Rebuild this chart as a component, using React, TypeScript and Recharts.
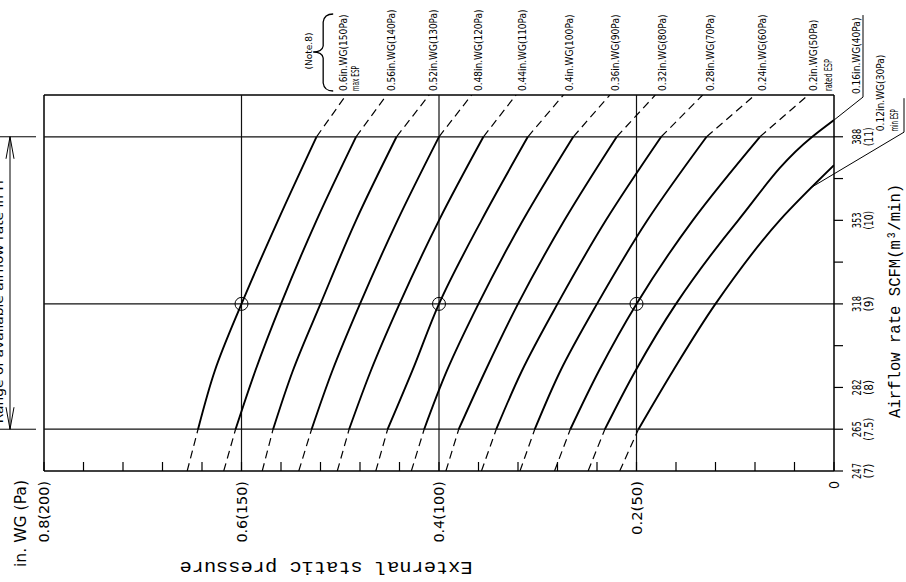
import React from "react";
import { LineChart, Line, XAxis, YAxis, ReferenceLine, ReferenceDot } from "recharts";

// airflow sample points (m3/min) at which the curves were read
const AIRFLOW = [7, 7.5, 8.2, 9, 10, 11, 11.5];

// external static pressure (in.WG) of each fan curve at the AIRFLOW points
const ESP_060 = [0.655, 0.644, 0.627, 0.6, 0.563, 0.524, 0.494];
const ESP_056 = [0.618, 0.606, 0.586, 0.56, 0.524, 0.484, 0.453];
const ESP_052 = [0.579, 0.568, 0.548, 0.52, 0.484, 0.443, 0.41];
const ESP_048 = [0.542, 0.529, 0.508, 0.48, 0.442, 0.4, 0.367];
const ESP_044 = [0.503, 0.491, 0.469, 0.44, 0.4, 0.355, 0.322];
const ESP_040 = [0.464, 0.452, 0.427, 0.4, 0.357, 0.31, 0.274];
const ESP_036 = [0.428, 0.415, 0.392, 0.36, 0.315, 0.264, 0.227];
const ESP_032 = [0.393, 0.38, 0.353, 0.32, 0.273, 0.22, 0.181];
const ESP_028 = [0.357, 0.342, 0.316, 0.28, 0.231, 0.175, 0.133];
const ESP_024 = [0.318, 0.303, 0.277, 0.24, 0.189, 0.129, 0.08];
const ESP_020 = [0.283, 0.267, 0.238, 0.2, 0.143, 0.075, 0.026];
const ESP_016 = [0.249, 0.232, 0.201, 0.16, 0.097, 0.022, null];
const ESP_012 = [0.217, 0.198, 0.163, 0.12, 0.055, null, null];

// airflow where the two lowest curves reach 0 in.WG
const ZERO_016 = 11.2;
const ZERO_012 = 10.66;

const CURVE_LABELS = [
  ["0.6in.WG(150Pa)", "max ESP"],
  ["0.56in.WG(140Pa)"],
  ["0.52in.WG(130Pa)"],
  ["0.48in.WG(120Pa)"],
  ["0.44in.WG(110Pa)"],
  ["0.4in.WG(100Pa)"],
  ["0.36in.WG(90Pa)"],
  ["0.32in.WG(80Pa)"],
  ["0.28in.WG(70Pa)"],
  ["0.24in.WG(60Pa)"],
  ["0.2in.WG(50Pa)", "rated ESP"],
  ["0.16in.WG(40Pa)"],
  ["0.12in.WG(30Pa)", "min ESP"],
];

const P_TICKS = [0, 0.04, 0.08, 0.12, 0.16, 0.2, 0.24, 0.28, 0.32, 0.36, 0.4, 0.44, 0.48, 0.52, 0.56, 0.6, 0.64, 0.68, 0.72, 0.76, 0.8];
const P_LABELED = [0.8, 0.6, 0.4, 0.2, 0];
const P_LABELS = ["0.8(200)", "0.6(150)", "0.4(100)", "0.2(50)", "0"];

const Q_TICKS = [7, 7.5, 8, 8.5, 9, 9.5, 10, 10.5, 11];
const Q_LABELED = [7, 7.5, 8, 9, 10, 11];
const SCFM_LABELS = ["247", "265", "282", "318", "353", "388"];
const M3_LABELS = ["(7)", "(7.5)", "(8)", "(9)", "(10)", "(11)"];

const GRID_P = [0.6, 0.4, 0.2];
const GRID_Q = [7.5, 9, 11];
const RATED_Q = 9;
const RATED_P = [0.6, 0.4, 0.2];

const CURVES = [
  { esp: ESP_060, zero: null },
  { esp: ESP_056, zero: null },
  { esp: ESP_052, zero: null },
  { esp: ESP_048, zero: null },
  { esp: ESP_044, zero: null },
  { esp: ESP_040, zero: null },
  { esp: ESP_036, zero: null },
  { esp: ESP_032, zero: null },
  { esp: ESP_028, zero: null },
  { esp: ESP_024, zero: null },
  { esp: ESP_020, zero: null },
  { esp: ESP_016, zero: ZERO_016 },
  { esp: ESP_012, zero: ZERO_012 },
];

const CAD = "'DejaVu Sans Condensed', 'Liberation Sans Narrow', 'DejaVu Sans', sans-serif";
const MONO = "'Liberation Mono', 'DejaVu Sans Mono', monospace";

// label line offsets (px) from the top end of each curve
const LABEL_DX = [[-3, 9], [4], [4], [6], [6], [6], [5], [7], [7], [7], [5, 20]];
const SUB_LEN: Record<string, number> = { "max ESP": 25, "rated ESP": 32, "min ESP": 22 };

function segments(esp: (number | null)[], zero: number | null) {
  const pts = AIRFLOW.map((q, i) => ({ q, p: esp[i] })).filter((d) => d.p != null) as { q: number; p: number }[];
  if (zero != null) pts.push({ q: zero, p: 0 });
  const low = pts.filter((d) => d.q <= 7.5);
  const mid = pts.filter((d) => d.q >= 7.5 && (zero != null || d.q <= 11));
  const top = zero != null ? [] : pts.filter((d) => d.q >= 11);
  return { low, mid, top };
}

function VText({ x, y, children, anchor = "start", size = 10.5, len, family = CAD }: any) {
  return (
    <text
      x={x} y={y}
      transform={`rotate(-90 ${x} ${y})`}
      textAnchor={anchor}
      dominantBaseline="central"
      fontSize={size}
      fontFamily={family}
      fill="#000"
      textLength={len}
      lengthAdjust={len ? "spacingAndGlyphs" : undefined}
    >
      {children}
    </text>
  );
}

const labelLen = (t: string) => SUB_LEN[t] ?? t.length * 5.1;

const curveLabel = (lines: string[], dxs: number[]) => (props: any) => {
  const { cx, cy } = props;
  return (
    <g>
      {lines.map((t, k) => (
        <VText key={k} x={cx + dxs[k]} y={cy - 4} len={labelLen(t)}>{t}</VText>
      ))}
    </g>
  );
};

// 0.16 label with underline and leader to the curve end
const label016 = (props: any) => {
  const { cx, cy } = props;
  return (
    <g>
      <VText x={cx + 22} y={cy - 26} len={labelLen(CURVE_LABELS[11][0])}>{CURVE_LABELS[11][0]}</VText>
      <polyline points={`${cx},${cy} ${cx + 29},${cy - 23} ${cx + 29},${cy - 105}`} fill="none" stroke="#000" strokeWidth={1} />
    </g>
  );
};

// 0.12 label with underline and leader down to the curve
const label012 = (props: any) => {
  const { cx, cy } = props;
  return (
    <g>
      <VText x={cx + 46} y={cy - 34} len={labelLen(CURVE_LABELS[12][0])}>{CURVE_LABELS[12][0]}</VText>
      <VText x={cx + 60} y={cy - 34} len={labelLen(CURVE_LABELS[12][1])}>{CURVE_LABELS[12][1]}</VText>
      <polyline points={`${cx - 24},${cy + 23} ${cx + 70},${cy - 33} ${cx + 70},${cy - 67}`} fill="none" stroke="#000" strokeWidth={1} />
    </g>
  );
};

// brace + (Note.8) next to the max ESP label
const noteShape = (props: any) => {
  const { cx, cy } = props;
  const x = cx - 13;
  const y = cy;
  const d = `M ${x} ${y - 81} Q ${x - 9} ${y - 81} ${x - 10} ${y - 73} L ${x - 10} ${y - 49} Q ${x - 11} ${y - 43} ${x - 20} ${y - 43} Q ${x - 11} ${y - 43} ${x - 10} ${y - 37} L ${x - 10} ${y - 12} Q ${x - 9} ${y - 4} ${x} ${y - 4}`;
  return (
    <g>
      <path d={d} fill="none" stroke="#000" strokeWidth={1.3} />
      <VText x={cx - 38} y={cy - 44} anchor="middle" size={9.5} len={37}>(Note.8)</VText>
    </g>
  );
};

// range-of-airflow arrow left of the plot; its caption runs off the page edge
const rangeArrow = (props: any) => {
  const { x1, y1, y2 } = props;
  const ax = x1 - 34;
  const tx = x1 - 41;
  return (
    <g stroke="#000" strokeWidth={1} fill="none">
      <line x1={x1 - 50} y1={y1} x2={x1 - 8} y2={y1} />
      <line x1={x1 - 50} y1={y2} x2={x1 - 8} y2={y2} />
      <line x1={ax} y1={y1} x2={ax} y2={y2} />
      <polyline points={`${ax - 4},${y1 + 22} ${ax},${y1} ${ax + 4},${y1 + 22}`} />
      <polyline points={`${ax - 4},${y2 - 22} ${ax},${y2} ${ax + 4},${y2 - 22}`} />
      <text
        x={tx} y={y2 - 6}
        transform={`rotate(-90 ${tx} ${y2 - 6})`}
        fontSize={12} fontFamily={CAD} fill="#000" stroke="none"
        textLength={243} lengthAdjust="spacingAndGlyphs"
      >
        Range of available airflow rate in H
      </text>
    </g>
  );
};

const cornerTexts = (props: any) => {
  const { cx, cy } = props;
  const ex = cx + 282;
  const ey = cy + 96;
  return (
    <g>
      <VText x={cx - 23} y={cy + 9} anchor="end" size={15} len={87}>in. WG (Pa)</VText>
      <text
        x={ex} y={ey}
        transform={`rotate(180 ${ex} ${ey})`}
        textAnchor="middle" dominantBaseline="central"
        fontSize={18} fontFamily={MONO} fill="#000"
        textLength={293} lengthAdjust="spacingAndGlyphs"
      >
        External static pressure
      </text>
    </g>
  );
};

const titleShape = (props: any) => {
  const { cx, cy } = props;
  return (
    <VText x={cx + 62} y={cy - 3} anchor="middle" size={17} len={234} family={MONO}>
      Airflow rate SCFM(m³/min)
    </VText>
  );
};

const renderPTick = (props: any) => {
  const { x, y, payload } = props;
  const i = P_LABELED.indexOf(payload.value);
  const t = i >= 0 ? P_LABELS[i] : null;
  return (
    <g>
      <line x1={x} y1={y} x2={x} y2={y - 9} stroke="#000" strokeWidth={1.2} />
      {t && (
        <VText x={x} y={y + 10} anchor="end" size={14} len={t.length > 1 ? t.length * 7.7 : undefined}>{t}</VText>
      )}
    </g>
  );
};

const renderQTick = (props: any) => {
  const { x, y, payload } = props;
  const i = Q_LABELED.indexOf(payload.value);
  if (i < 0) return <g />;
  return (
    <g>
      <VText x={x + 14} y={y} anchor="middle" size={12} len={16}>{SCFM_LABELS[i]}</VText>
      <VText x={x + 26} y={y} anchor="middle" size={12} len={M3_LABELS[i].length * 4 + 3}>{M3_LABELS[i]}</VText>
    </g>
  );
};

export default function App() {
  return (
    <div style={{ position: "absolute", left: 0, top: 0, background: "#fff" }}>
      <LineChart width={906} height={582} margin={{ top: 95, right: 0, bottom: 0, left: 44 }}>
        <XAxis
          type="number" dataKey="p" domain={[0, 0.8]} reversed allowDataOverflow
          ticks={P_TICKS} interval={0} height={111}
          tickSize={0} tickMargin={0} tickLine={false}
          tick={renderPTick}
          axisLine={{ stroke: "#000", strokeWidth: 1.5 }}
        />
        <YAxis
          type="number" orientation="right" domain={[7, 11.5]} allowDataOverflow
          ticks={Q_TICKS} interval={0} width={72}
          tickSize={9} tickMargin={0}
          tickLine={{ stroke: "#000", strokeWidth: 1.2 }}
          tick={renderQTick}
          axisLine={{ stroke: "#000", strokeWidth: 1.5 }}
        />

        {/* frame top / left */}
        <ReferenceLine y={11.5} stroke="#000" strokeWidth={1.5} ifOverflow="visible" />
        <ReferenceLine x={0.8} stroke="#000" strokeWidth={1.5} ifOverflow="visible" />

        {GRID_P.map((p) => (
          <ReferenceLine key={`gp${p}`} x={p} stroke="#111" strokeWidth={1.2} ifOverflow="visible" />
        ))}
        {GRID_Q.map((q) => (
          <ReferenceLine key={`gq${q}`} y={q} stroke="#111" strokeWidth={1.2} ifOverflow="visible" />
        ))}

        {CURVES.map((c, i) => {
          const s = segments(c.esp, c.zero);
          return [
            <Line key={`lo${i}`} data={s.low} dataKey="q" type="linear" stroke="#000" strokeWidth={1.2}
              strokeDasharray="8 5" dot={false} activeDot={false} isAnimationActive={false} />,
            <Line key={`mi${i}`} data={s.mid} dataKey="q" type="monotoneY" stroke="#000" strokeWidth={1.9}
              dot={false} activeDot={false} isAnimationActive={false} />,
            s.top.length > 0 && (
              <Line key={`tp${i}`} data={s.top} dataKey="q" type="linear" stroke="#000" strokeWidth={1.2}
                strokeDasharray="8 5" dot={false} activeDot={false} isAnimationActive={false} />
            ),
          ];
        })}

        {RATED_P.map((p) => (
          <ReferenceDot key={`rp${p}`} x={p} y={RATED_Q} r={6.5} fill="none" stroke="#000" strokeWidth={1} ifOverflow="visible" />
        ))}

        {CURVES.slice(0, 11).map((c, i) => (
          <ReferenceDot key={`lb${i}`} x={c.esp[6] as number} y={11.5} ifOverflow="visible"
            shape={curveLabel(CURVE_LABELS[i], LABEL_DX[i])} />
        ))}
        <ReferenceDot x={0} y={ZERO_016} ifOverflow="visible" shape={label016} />
        <ReferenceDot x={0} y={ZERO_012} ifOverflow="visible" shape={label012} />
        <ReferenceDot x={ESP_060[6]} y={11.5} ifOverflow="visible" shape={noteShape} />

        <ReferenceLine segment={[{ x: 0.8, y: 11 }, { x: 0.8, y: 7.5 }]} ifOverflow="visible" shape={rangeArrow} />
        <ReferenceDot x={0.8} y={7} ifOverflow="visible" shape={cornerTexts} />
        <ReferenceDot x={0} y={RATED_Q} ifOverflow="visible" shape={titleShape} />
      </LineChart>
    </div>
  );
}
